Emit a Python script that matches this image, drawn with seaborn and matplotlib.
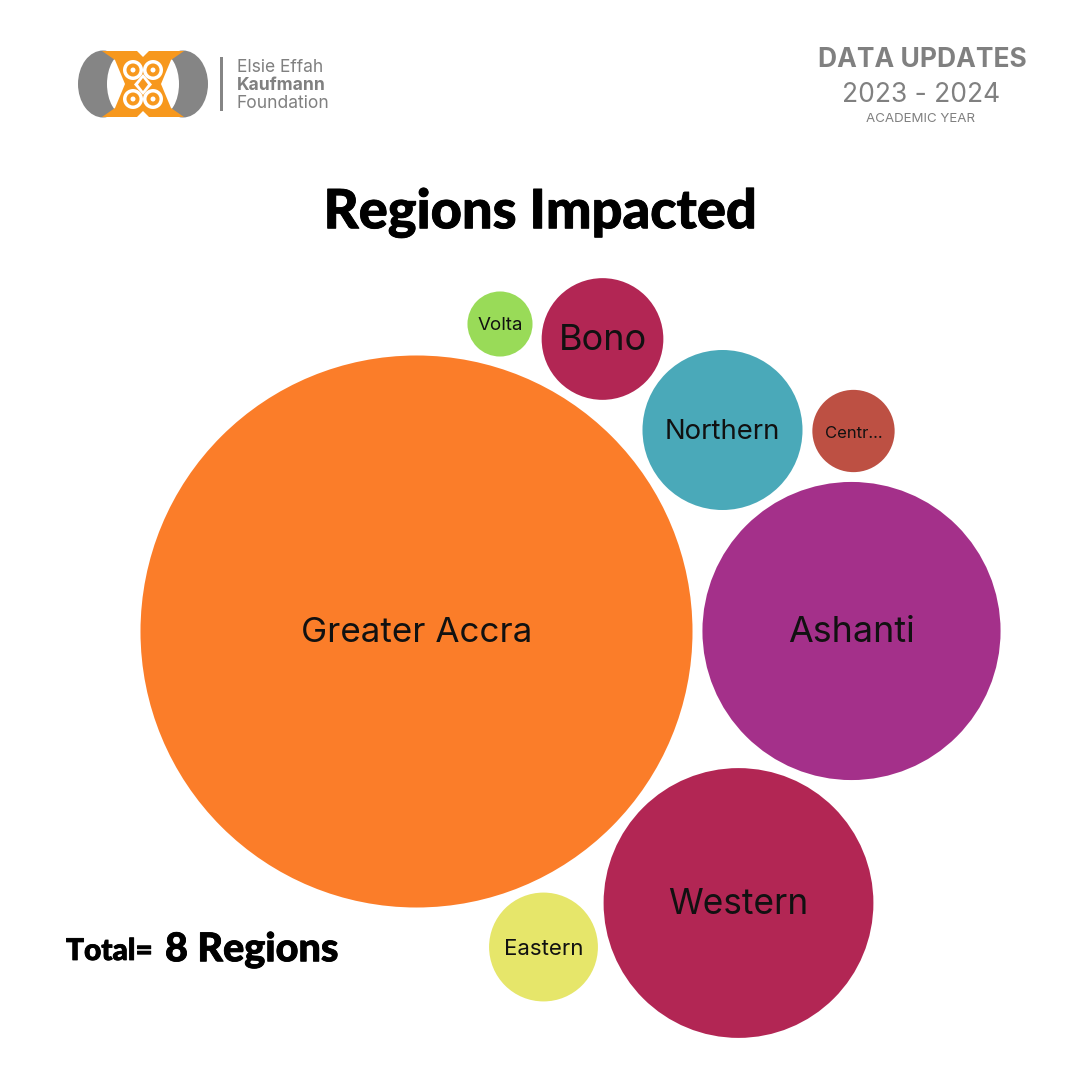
import matplotlib
matplotlib.use("Agg")
import matplotlib.pyplot as plt
import matplotlib.patheffects as pe
from matplotlib.patches import Ellipse, Circle, Polygon, Rectangle
import pandas as pd
import seaborn as sns

regions = ["Greater Accra", "Ashanti", "Western", "Northern", "Bono", "Eastern", "Central", "Volta"]
labels = ["Greater Accra", "Ashanti", "Western", "Northern", "Bono", "Eastern", "Centr...", "Volta"]
values = [72, 21, 17.2, 6.05, 3.5, 2.8, 1.6, 1.0]
pos_x = [416.5, 851.5, 738.5, 722.5, 602.5, 543.5, 853.5, 500]
pos_y = [631.5, 631, 903, 430, 339, 947, 431, 324]
colors = ["#FB7D29", "#A4308A", "#B22654", "#4AA9B9", "#B22654", "#E6E66A", "#BD5043", "#99DB58"]
label_sizes = [25.2, 25.8, 25.4, 19.8, 26, 16, 12, 13.5]

df = pd.DataFrame({"region": regions, "value": values, "x": pos_x, "y": pos_y})

sns.set_theme(style="white")
plt.rcParams["font.family"] = ["Inter", "DejaVu Sans"]

fig = plt.figure(figsize=(10.8, 10.8), dpi=100, facecolor="white")
ax = fig.add_axes([0, 0, 1, 1])

sns.scatterplot(data=df, x="x", y="y", hue="region", palette=dict(zip(regions, colors)),
                size="value", sizes=(2194 * min(values), 2194 * max(values)),
                size_norm=(min(values), max(values)), linewidth=0, alpha=1,
                legend=False, clip_on=False, ax=ax)

ax.set_xlim(0, 1080)
ax.set_ylim(1080, 0)
ax.axis("off")

for lab, x, y, fs in zip(labels, pos_x, pos_y, label_sizes):
    ax.text(x, y + 2, lab, fontsize=fs, color="#111111", ha="center", va="center")

# title and total, thickened a bit because Lato is lighter than the original face
heavy = [pe.withStroke(linewidth=0.6, foreground="black")]
ax.text(540, 213, "Regions Impacted", fontsize=39, fontweight="black", family="Lato",
        ha="center", va="center", color="black", path_effects=heavy)
ax.text(66, 951, "Total=", fontsize=21.5, fontweight="black", family="Lato", ha="left", va="center",
        color="black", path_effects=heavy)
ax.text(165, 950, "8 Regions", fontsize=28.5, fontweight="black", family="Lato", ha="left", va="center",
        color="black", path_effects=heavy)

# header right
grey = "#808080"
ax.text(922, 60, "DATA UPDATES", fontsize=19, fontweight="bold", family="Inter", ha="center", va="center", color=grey)
ax.text(921, 95, "2023 - 2024", fontsize=19, family="Inter", ha="center", va="center", color=grey)
ax.text(921, 119, "ACADEMIC YEAR", fontsize=9.6, family="Inter", ha="center", va="center", color=grey)

# logo, rough shapes
orange = "#F7981D"
ax.add_patch(Ellipse((103, 84), 50, 67, color="#858585", lw=0))
ax.add_patch(Ellipse((183, 84), 50, 67, color="#858585", lw=0))
ax.add_patch(Ellipse((125, 84), 36, 62, color="white", lw=0))
ax.add_patch(Ellipse((161, 84), 36, 62, color="white", lw=0))
ax.add_patch(Polygon([(102, 51), (115, 60), (125, 84), (115, 108), (102, 117), (184, 117),
                      (171, 108), (161, 84), (171, 60), (184, 51)],
                     closed=True, color=orange, lw=0))
ax.add_patch(Polygon([(136, 50), (150, 50), (143, 57)], closed=True, color="white", lw=0))
ax.add_patch(Polygon([(136, 118), (150, 118), (143, 111)], closed=True, color="white", lw=0))
for cx, cy in [(133, 70), (153, 70), (133, 99), (153, 99)]:
    ax.add_patch(Circle((cx, cy), 10, color="white", lw=0))
    ax.add_patch(Circle((cx, cy), 6.5, color=orange, lw=0))
    ax.add_patch(Circle((cx, cy), 2.5, color="white", lw=0))
ax.add_patch(Polygon([(143, 74), (152, 84.5), (143, 95), (134, 84.5)], closed=True, color="white", lw=0))
ax.add_patch(Polygon([(143, 78), (148, 84.5), (143, 91), (138, 84.5)], closed=True, color=orange, lw=0))
ax.add_patch(Rectangle((219.5, 57), 3, 54, color="#858585", lw=0))
ax.text(237, 67, "Elsie Effah", fontsize=12.6, family="Inter", ha="left", va="center", color=grey)
ax.text(237, 86, "Kaufmann", fontsize=12.6, fontweight="bold", family="Inter", ha="left", va="center", color=grey)
ax.text(237, 103, "Foundation", fontsize=12.6, family="Inter", ha="left", va="center", color=grey)

fig.savefig("out.png", dpi=100)
